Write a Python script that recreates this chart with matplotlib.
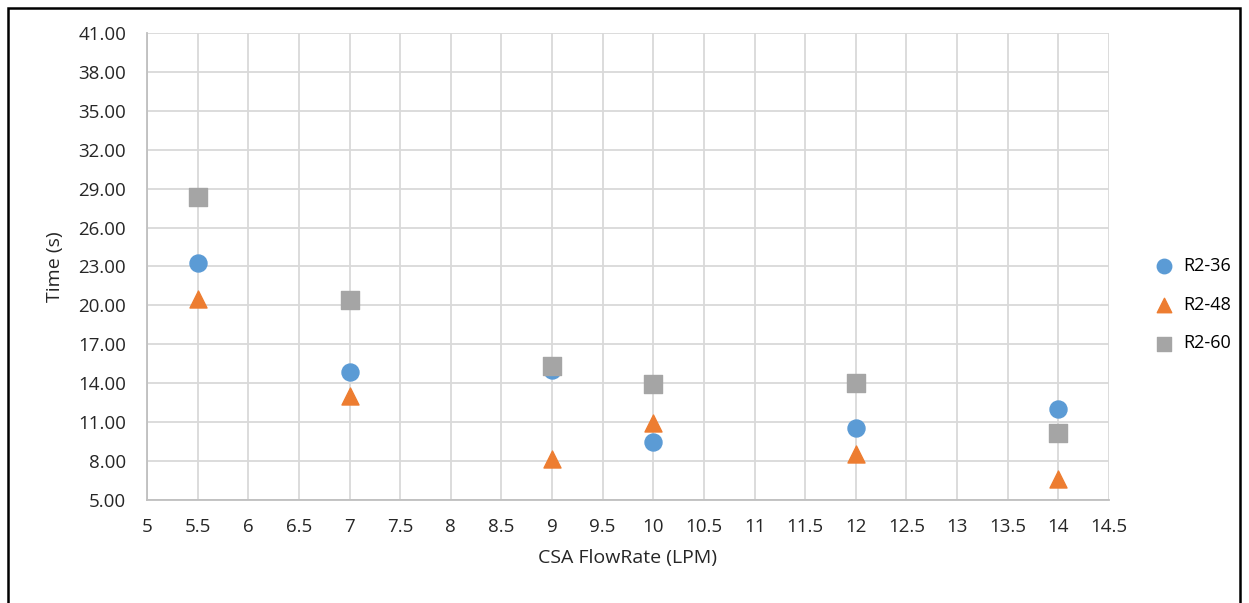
import numpy as np
import matplotlib.pyplot as plt
from matplotlib.patches import Rectangle
from matplotlib.ticker import MultipleLocator, FixedLocator, FormatStrFormatter

plt.rcParams["font.family"] = ["Open Sans", "DejaVu Sans"]

flow = [5.5, 7, 9, 10, 12, 14]
r2_36 = [23.27, 14.87, 15.0, 9.47, 10.55, 12.0]
r2_48 = [20.5, 13.0, 8.16, 10.94, 8.55, 6.62]
r2_60 = [28.36, 20.4, 15.33, 13.94, 14.0, 10.17]

fig = plt.figure(figsize=(12.49, 6.03), dpi=100)
ax = fig.add_axes([0.1177, 0.1708, 0.7702, 0.7745])

ax.scatter(flow, r2_36, s=150, marker="o", color="#5B9BD5", label="R2-36", zorder=3)
ax.scatter(flow, r2_48, s=150, marker="^", color="#ED7D31", label="R2-48", zorder=3)
ax.scatter(flow, r2_60, s=150, marker="s", color="#A5A5A5", label="R2-60", zorder=3)

ax.set_xlim(5, 14.5)
ax.set_ylim(5, 41)
ax.xaxis.set_major_locator(MultipleLocator(0.5))
ax.yaxis.set_major_locator(FixedLocator(np.arange(5, 42, 3)))
ax.xaxis.set_major_formatter(lambda v, p: f"{v:g}")
ax.yaxis.set_major_formatter(FormatStrFormatter("%.2f"))
ax.grid(True, color="#d9d9d9", linewidth=1.3)
ax.set_axisbelow(True)

for side in ("top", "right"):
    ax.spines[side].set_visible(False)
for side in ("left", "bottom"):
    ax.spines[side].set_color("#bfbfbf")
    ax.spines[side].set_linewidth(1.3)

ax.tick_params(length=0, labelsize=13.5, colors="#262626")
ax.tick_params(axis="y", pad=15)
ax.tick_params(axis="x", pad=13)

ax.set_xlabel("CSA FlowRate (LPM)", fontsize=14, color="#262626", labelpad=9)
ax.set_ylabel("Time (s)", fontsize=14, color="#262626", labelpad=10)

fig.legend(loc="center left", bbox_to_anchor=(0.912, 0.495), frameon=False,
           fontsize=13, handletextpad=0.05, labelspacing=1.15,
           borderaxespad=0, markerscale=0.85)

# outer frame
fig.patches.append(Rectangle((8 / 1249, -0.05), 1232 / 1249, 1.05 - 8 / 603,
                             transform=fig.transFigure, fill=False,
                             edgecolor="black", linewidth=1.8))

fig.savefig("out.png", dpi=100)
